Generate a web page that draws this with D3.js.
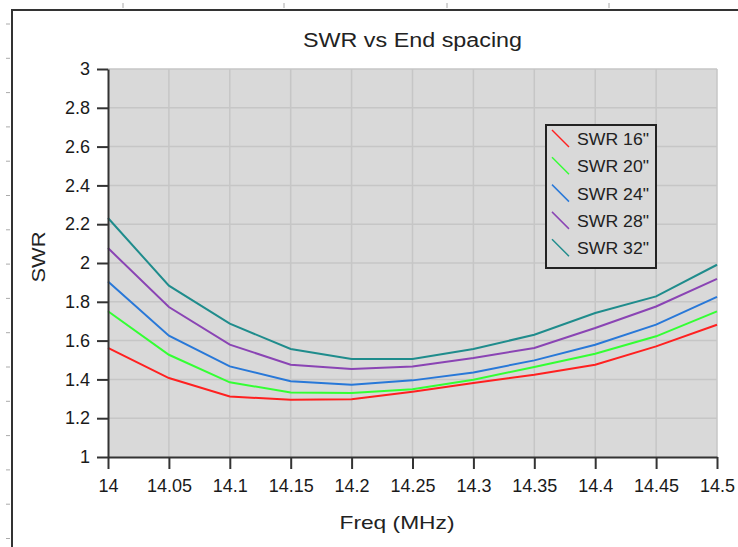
<!DOCTYPE html>
<html>
<head>
<meta charset="utf-8">
<script src="https://cdn.jsdelivr.net/npm/d3@7"></script>
<style>
  body { margin: 0; background: #fff; }
  svg { display: block; font-family: "Liberation Sans", Arial, sans-serif; }
</style>
</head>
<body>
<div id="chart"></div>
<script>
// data
const freqs = [14, 14.05, 14.1, 14.15, 14.2, 14.25, 14.3, 14.35, 14.4, 14.45, 14.5];
const swr16 = [1.562, 1.407, 1.312, 1.295, 1.298, 1.336, 1.381, 1.424, 1.476, 1.570, 1.682];
const swr20 = [1.751, 1.527, 1.385, 1.333, 1.330, 1.349, 1.398, 1.464, 1.532, 1.622, 1.751];
const swr24 = [1.905, 1.625, 1.467, 1.390, 1.373, 1.395, 1.436, 1.498, 1.579, 1.682, 1.825];
const swr28 = [2.077, 1.773, 1.579, 1.476, 1.454, 1.467, 1.510, 1.562, 1.665, 1.776, 1.918];
const swr32 = [2.232, 1.883, 1.687, 1.557, 1.505, 1.505, 1.557, 1.630, 1.742, 1.828, 1.991];
const seriesNames = ['SWR 16"', 'SWR 20"', 'SWR 24"', 'SWR 28"', 'SWR 32"'];
const seriesColors = ["#ff2020", "#33ff33", "#2878d8", "#8a44b4", "#1f8c8c"];
const yTicks = [1, 1.2, 1.4, 1.6, 1.8, 2, 2.2, 2.4, 2.6, 2.8, 3];

const series = [swr16, swr20, swr24, swr28, swr32].map((vals, i) => ({
    name: seriesNames[i],
    color: seriesColors[i],
    values: vals.map((v, j) => ({ f: freqs[j], swr: v }))
}));

const W = 738, H = 547;
const plot = { left: 108, right: 717, top: 69, bottom: 457 };

const svg = d3.select("#chart").append("svg")
    .attr("width", W)
    .attr("height", H);

// page frame + ruler marks
svg.append("rect")
    .attr("x", 12).attr("y", 10)
    .attr("width", W + 20).attr("height", H + 20)
    .attr("fill", "none")
    .attr("stroke", "#333")
    .attr("stroke-width", 2);

svg.selectAll(".rulerTop")
    .data([123, 284, 447, 609])
    .enter().append("line")
    .attr("x1", d => d).attr("x2", d => d)
    .attr("y1", 3).attr("y2", 8)
    .attr("stroke", "#aaa");

svg.selectAll(".rulerLeft")
    .data(d3.range(24, H, 34.3))
    .enter().append("line")
    .attr("x1", 6).attr("x2", 10)
    .attr("y1", d => d).attr("y2", d => d)
    .attr("stroke", "#aaa");

const x = d3.scaleLinear().domain([14, 14.5]).range([plot.left, plot.right]);
const y = d3.scaleLinear().domain([1, 3]).range([plot.bottom, plot.top]);

// plot background
svg.append("rect")
    .attr("x", plot.left).attr("y", plot.top)
    .attr("width", plot.right - plot.left)
    .attr("height", plot.bottom - plot.top)
    .attr("fill", "#d9d9d9");

// grid
svg.append("g").selectAll("line")
    .data(freqs.slice(1))
    .enter().append("line")
    .attr("x1", d => x(d)).attr("x2", d => x(d))
    .attr("y1", plot.top).attr("y2", plot.bottom)
    .attr("stroke", "#c6c6c6").attr("stroke-width", 1.5);

svg.append("g").selectAll("line")
    .data(yTicks.slice(1))
    .enter().append("line")
    .attr("x1", plot.left).attr("x2", plot.right)
    .attr("y1", d => y(d)).attr("y2", d => y(d))
    .attr("stroke", "#c6c6c6").attr("stroke-width", 1.5);

// lines
const line = d3.line()
    .x(d => x(d.f))
    .y(d => y(d.swr));

svg.append("g").selectAll("path")
    .data(series)
    .enter().append("path")
    .attr("d", d => line(d.values))
    .attr("fill", "none")
    .attr("stroke", d => d.color)
    .attr("stroke-width", 2);

// axes
const xAxis = svg.append("g")
    .attr("transform", `translate(0,${plot.bottom})`)
    .call(d3.axisBottom(x)
        .tickValues(freqs)
        .tickFormat(d3.format("~g"))
        .tickSize(12)
        .tickPadding(10)
        .tickSizeOuter(0));

const yAxis = svg.append("g")
    .attr("transform", `translate(${plot.left},0)`)
    .call(d3.axisLeft(y)
        .tickValues(yTicks)
        .tickFormat(d3.format("~g"))
        .tickSize(11)
        .tickPadding(7)
        .tickSizeOuter(0));

[xAxis, yAxis].forEach(a => {
    a.select(".domain").attr("stroke", "#333").attr("stroke-width", 2);
    a.selectAll(".tick line").attr("stroke", "#333").attr("stroke-width", 2);
    a.selectAll(".tick text")
        .attr("fill", "#1a1a1a")
        .style("font-size", "18px")
        .style("font-family", "'Liberation Sans', Arial, sans-serif");
});

// titles
svg.append("text")
    .attr("x", (plot.left + plot.right) / 2)
    .attr("y", 47)
    .attr("text-anchor", "middle")
    .attr("textLength", 219)
    .attr("lengthAdjust", "spacingAndGlyphs")
    .style("font-size", "20px")
    .attr("fill", "#222")
    .text("SWR vs End spacing");

svg.append("text")
    .attr("x", 397)
    .attr("y", 529)
    .attr("text-anchor", "middle")
    .attr("textLength", 115)
    .attr("lengthAdjust", "spacingAndGlyphs")
    .style("font-size", "19px")
    .attr("fill", "#222")
    .text("Freq (MHz)");

svg.append("text")
    .attr("transform", "translate(45,257) rotate(-90)")
    .attr("text-anchor", "middle")
    .attr("textLength", 51)
    .attr("lengthAdjust", "spacingAndGlyphs")
    .style("font-size", "19px")
    .attr("fill", "#222")
    .text("SWR");

// legend
const legend = svg.append("g");
legend.append("rect")
    .attr("x", 546).attr("y", 125)
    .attr("width", 110).attr("height", 143)
    .attr("fill", "#d9d9d9")
    .attr("stroke", "#222")
    .attr("stroke-width", 2);

const item = legend.selectAll(".legend")
    .data(series)
    .enter().append("g")
    .attr("class", "legend")
    .attr("transform", (d, i) => `translate(0,${139 + i * 27.3})`);

item.append("line")
    .attr("x1", 552).attr("y1", -9)
    .attr("x2", 569).attr("y2", 8)
    .attr("stroke", d => d.color)
    .attr("stroke-width", 1.5);

item.append("text")
    .attr("x", 577)
    .attr("y", 6)
    .style("font-size", "16px")
    .attr("textLength", 72)
    .attr("lengthAdjust", "spacingAndGlyphs")
    .attr("fill", "#222")
    .text(d => d.name);
</script>
</body>
</html>
